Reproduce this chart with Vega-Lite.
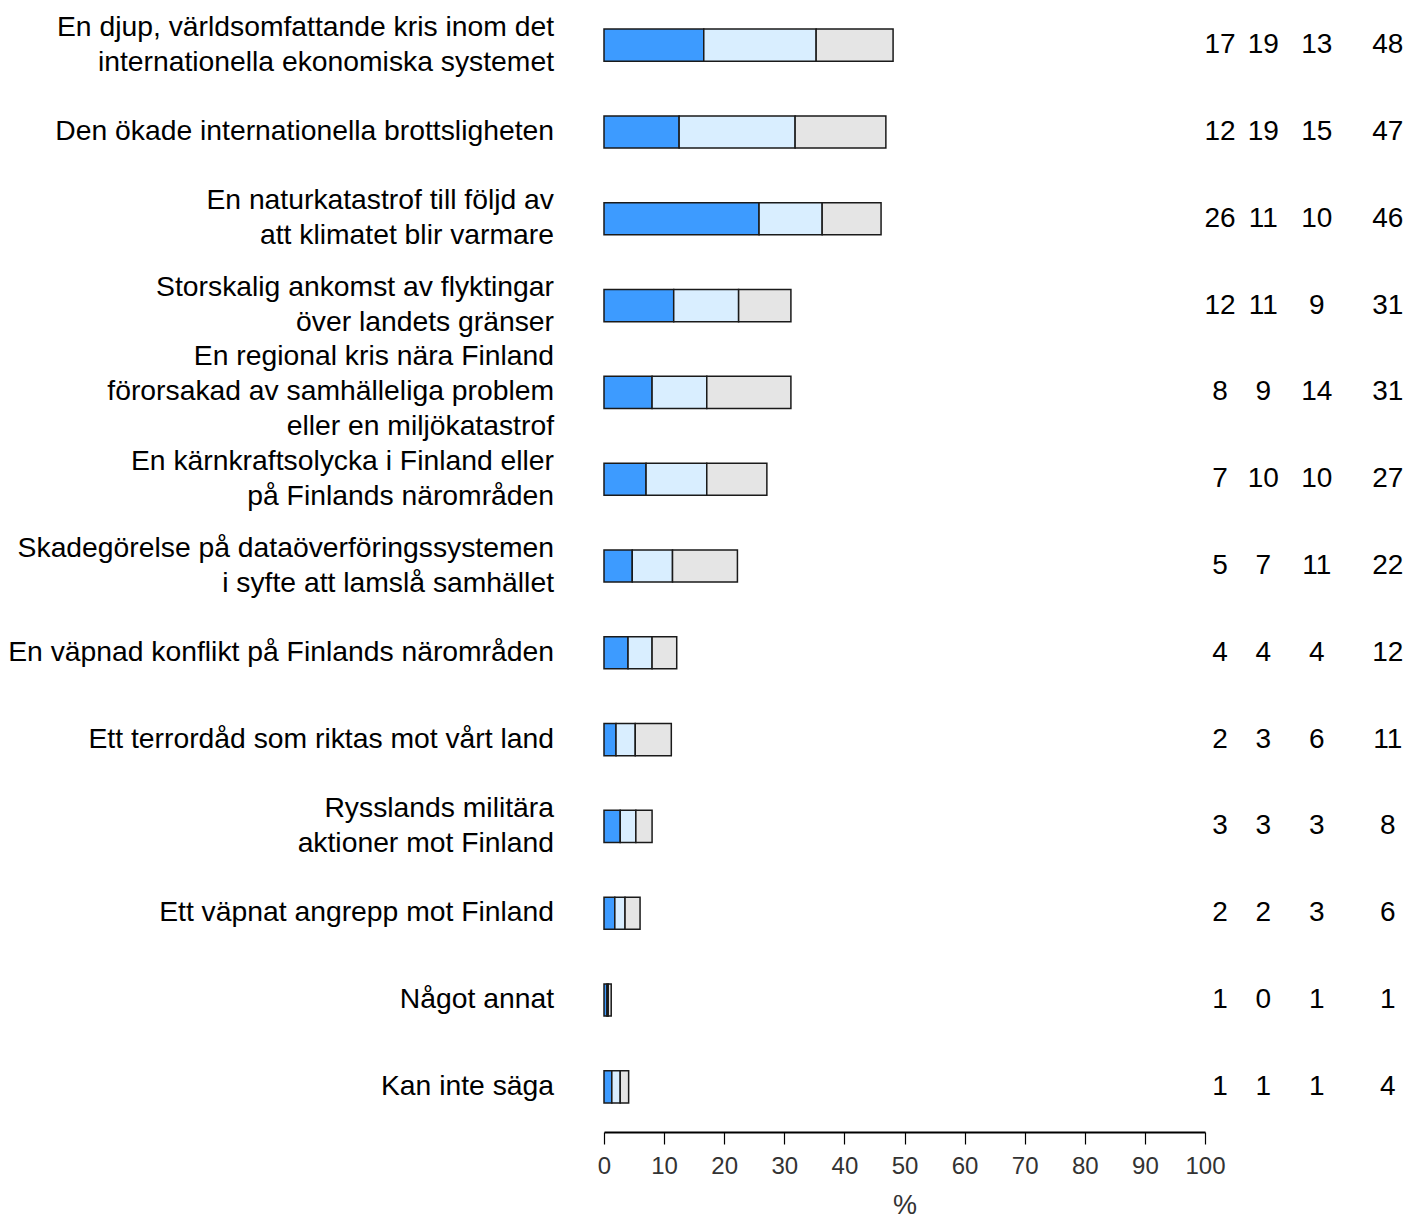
{
  "$schema": "https://vega.github.io/schema/vega-lite/v6.json",
  "autosize": {"type": "none"},
  "padding": {"left": 604, "top": 0, "right": 204, "bottom": 87},
  "width": 601,
  "height": 1132,
  "background": "white",
  "config": {"view": {"stroke": null}, "font": "Liberation Sans"},
  "data": {
    "values": [
      {"item": "En djup, världsomfattande kris inom det internationella ekonomiska systemet", "lines": ["En djup, världsomfattande kris inom det", "internationella ekonomiska systemet"], "a": 16.6, "b": 18.7, "c": 12.8, "t1": "17", "t2": "19", "t3": "13", "tot": "48"},
      {"item": "Den ökade internationella brottsligheten", "lines": ["Den ökade internationella brottsligheten"], "a": 12.5, "b": 19.3, "c": 15.1, "t1": "12", "t2": "19", "t3": "15", "tot": "47"},
      {"item": "En naturkatastrof till följd av att klimatet blir varmare", "lines": ["En naturkatastrof till följd av", "att klimatet blir varmare"], "a": 25.8, "b": 10.5, "c": 9.8, "t1": "26", "t2": "11", "t3": "10", "tot": "46"},
      {"item": "Storskalig ankomst av flyktingar över landets gränser", "lines": ["Storskalig ankomst av flyktingar", "över landets gränser"], "a": 11.6, "b": 10.8, "c": 8.7, "t1": "12", "t2": "11", "t3": "9", "tot": "31"},
      {"item": "En regional kris nära Finland förorsakad av samhälleliga problem eller en miljökatastrof", "lines": ["En regional kris nära Finland", "förorsakad av samhälleliga problem", "eller en miljökatastrof"], "a": 8.0, "b": 9.1, "c": 14.0, "t1": "8", "t2": "9", "t3": "14", "tot": "31"},
      {"item": "En kärnkraftsolycka i Finland eller på Finlands närområden", "lines": ["En kärnkraftsolycka i Finland eller", "på Finlands närområden"], "a": 7.0, "b": 10.1, "c": 10.0, "t1": "7", "t2": "10", "t3": "10", "tot": "27"},
      {"item": "Skadegörelse på dataöverföringssystemen i syfte att lamslå samhället", "lines": ["Skadegörelse på dataöverföringssystemen", "i syfte att lamslå samhället"], "a": 4.7, "b": 6.7, "c": 10.8, "t1": "5", "t2": "7", "t3": "11", "tot": "22"},
      {"item": "En väpnad konflikt på Finlands närområden", "lines": ["En väpnad konflikt på Finlands närområden"], "a": 4.0, "b": 4.0, "c": 4.1, "t1": "4", "t2": "4", "t3": "4", "tot": "12"},
      {"item": "Ett terrordåd som riktas mot vårt land", "lines": ["Ett terrordåd som riktas mot vårt land"], "a": 2.0, "b": 3.2, "c": 6.0, "t1": "2", "t2": "3", "t3": "6", "tot": "11"},
      {"item": "Rysslands militära aktioner mot Finland", "lines": ["Rysslands militära", "aktioner mot Finland"], "a": 2.7, "b": 2.6, "c": 2.7, "t1": "3", "t2": "3", "t3": "3", "tot": "8"},
      {"item": "Ett väpnat angrepp mot Finland", "lines": ["Ett väpnat angrepp mot Finland"], "a": 1.8, "b": 1.7, "c": 2.5, "t1": "2", "t2": "2", "t3": "3", "tot": "6"},
      {"item": "Något annat", "lines": ["Något annat"], "a": 0.5, "b": 0.2, "c": 0.5, "t1": "1", "t2": "0", "t3": "1", "tot": "1"},
      {"item": "Kan inte säga", "lines": ["Kan inte säga"], "a": 1.3, "b": 1.4, "c": 1.4, "t1": "1", "t2": "1", "t3": "1", "tot": "4"}
    ]
  },
  "encoding": {
    "y": {
      "field": "item", "type": "nominal", "sort": null,
      "scale": {"paddingInner": 0.63, "paddingOuter": 0.335},
      "axis": null
    }
  },
  "layer": [
    {
      "transform": [{"fold": ["a", "b", "c"], "as": ["cat", "value"]}],
      "mark": {"type": "bar", "stroke": "#1a1a1a", "strokeWidth": 1.5},
      "encoding": {
        "x": {
          "field": "value", "type": "quantitative", "stack": "zero",
          "scale": {"domain": [0, 100], "nice": false},
          "axis": {"values": [0, 10, 20, 30, 40, 50, 60, 70, 80, 90, 100], "grid": false, "labelFlush": false, "labelOverlap": false, "domainColor": "#000000", "domainWidth": 2, "tickColor": "#000000", "tickWidth": 1.2, "tickSize": 12, "labelFontSize": 24, "labelColor": "#333333", "labelPadding": 10, "labelFont": "Liberation Sans", "title": "%", "titleFontSize": 27, "titleFontWeight": "normal", "titleColor": "#333333", "titlePadding": 14, "titleFont": "Liberation Sans"}
        },
        "color": {"field": "cat", "type": "nominal", "scale": {"domain": ["a", "b", "c"], "range": ["#3d9bff", "#d9eeff", "#e5e5e5"]}, "legend": null},
        "order": {"field": "cat", "type": "nominal"}
      }
    },
    {
      "transform": [{"filter": "length(datum.lines) == 1"}],
      "mark": {"type": "text", "fontSize": 28.3, "align": "right", "baseline": "middle", "dx": -50, "lineHeight": 35, "font": "Liberation Sans", "color": "#000000"},
      "encoding": {"x": {"datum": 0, "type": "quantitative"}, "text": {"field": "lines"}}
    },
    {
      "transform": [{"filter": "length(datum.lines) == 2"}],
      "mark": {"type": "text", "fontSize": 28.3, "align": "right", "baseline": "middle", "dx": -50, "dy": -17.5, "lineHeight": 35, "font": "Liberation Sans", "color": "#000000"},
      "encoding": {"x": {"datum": 0, "type": "quantitative"}, "text": {"field": "lines"}}
    },
    {
      "transform": [{"filter": "length(datum.lines) == 3"}],
      "mark": {"type": "text", "fontSize": 28.3, "align": "right", "baseline": "middle", "dx": -50, "dy": -35, "lineHeight": 35, "font": "Liberation Sans", "color": "#000000"},
      "encoding": {"x": {"datum": 0, "type": "quantitative"}, "text": {"field": "lines"}}
    },
    {
      "mark": {"type": "text", "fontSize": 28, "align": "center", "baseline": "middle", "font": "Liberation Sans", "color": "#000000"},
      "encoding": {"x": {"datum": 102.5, "type": "quantitative"}, "text": {"field": "t1"}}
    },
    {
      "mark": {"type": "text", "fontSize": 28, "align": "center", "baseline": "middle", "font": "Liberation Sans", "color": "#000000"},
      "encoding": {"x": {"datum": 109.7, "type": "quantitative"}, "text": {"field": "t2"}}
    },
    {
      "mark": {"type": "text", "fontSize": 28, "align": "center", "baseline": "middle", "font": "Liberation Sans", "color": "#000000"},
      "encoding": {"x": {"datum": 118.6, "type": "quantitative"}, "text": {"field": "t3"}}
    },
    {
      "mark": {"type": "text", "fontSize": 28, "align": "center", "baseline": "middle", "font": "Liberation Sans", "color": "#000000"},
      "encoding": {"x": {"datum": 130.4, "type": "quantitative"}, "text": {"field": "tot"}}
    }
  ]
}
